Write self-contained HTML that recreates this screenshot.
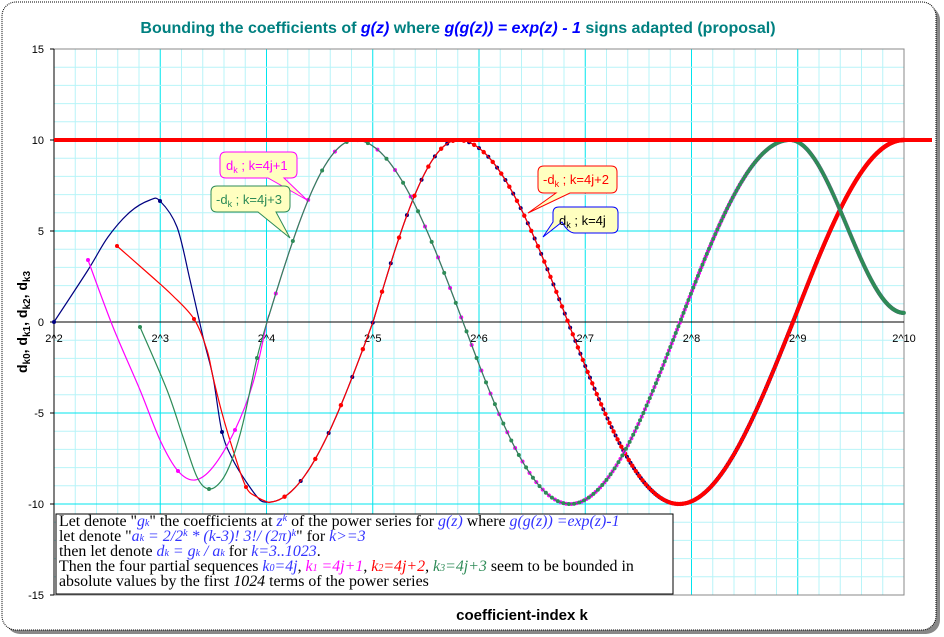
<!DOCTYPE html>
<html><head><meta charset="utf-8"><style>
html,body{margin:0;padding:0;background:#fff;width:944px;height:637px;overflow:hidden}
svg text{font-family:"Liberation Sans",sans-serif}
</style></head><body>
<svg id="s" width="944" height="637" xmlns="http://www.w3.org/2000/svg">
<rect x="6" y="6" width="934" height="628" rx="14" fill="#888"/>
<rect x="2" y="2" width="934" height="628" rx="14" fill="#fff" stroke="#000" stroke-dasharray="1,1"/>
<g id="grid"></g>
<rect x="54" y="49" width="850" height="546" fill="none" stroke="#888" stroke-width="1"/>
<line x1="54" y1="322" x2="904" y2="322" stroke="#000" stroke-width="1"/>
<line x1="54" y1="49" x2="54" y2="595" stroke="#000" stroke-width="1"/>
<g id="ticks" font-size="11"></g>
<g id="curves"></g>
<line x1="54" y1="140" x2="932" y2="140" stroke="#ff0000" stroke-width="4"/>
<g font-size="13">
<path d="M226,152 H291 Q297,152 297,158 V172 Q297,178 291,178 H284 L307,200 L268,178 H226 Q220,178 220,172 V158 Q220,152 226,152Z" fill="#ffffc0" stroke="#ff00ff"/>
<text x="226" y="170" fill="#ff00ff">d<tspan font-size="9" dy="3">k</tspan><tspan dy="-3"> ; k=4j+1</tspan></text>
<path d="M217,186 H284 Q290,186 290,192 V206 Q290,212 284,212 H276 L290,238 L258,212 H217 Q211,212 211,206 V192 Q211,186 217,186Z" fill="#ffffc0" stroke="#2e8b57"/>
<text x="216" y="204" fill="#2e8b57">-d<tspan font-size="9" dy="3">k</tspan><tspan dy="-3"> ; k=4j+3</tspan></text>
<path d="M544,166 H611 Q617,166 617,172 V187 Q617,193 611,193 H570 L528,213 L556,193 H544 Q538,193 538,187 V172 Q538,166 544,166Z" fill="#ffffc0" stroke="#ff0000"/>
<text x="543" y="184" fill="#ff0000">-d<tspan font-size="9" dy="3">k</tspan><tspan dy="-3"> ; k=4j+2</tspan></text>
<path d="M559,207 H612 Q618,207 618,213 V227 Q618,233 612,233 H575 Q568,233 562,222 L543,237 L553,222 V213 Q553,207 559,207Z" fill="#ffffc0" stroke="#0000ff"/>
<text x="559" y="225" fill="#000">d<tspan font-size="9" dy="3">k</tspan><tspan dy="-3"> ; k=4j</tspan></text>
</g>
<rect x="56" y="514" width="617" height="80" fill="#fff" stroke="#000"/>
<g font-size="15.9">
<text x="59" y="526" style="font-family:'Liberation Serif',serif">Let denote "<tspan fill="#3333ff" font-style="italic">g<tspan font-size="10">k</tspan></tspan>" the coefficients at <tspan fill="#3333ff" font-style="italic">z<tspan font-size="10" dy="-5">k</tspan></tspan><tspan dy="5"> of the power series for </tspan><tspan fill="#3333ff" font-style="italic">g(z)</tspan>  where <tspan fill="#3333ff" font-style="italic">g(g(z)) =exp(z)-1</tspan></text>
<text x="59" y="541" style="font-family:'Liberation Serif',serif">let denote  "<tspan fill="#3333ff" font-style="italic">a<tspan font-size="10">k</tspan> = 2/2<tspan font-size="10" dy="-5">k</tspan><tspan dy="5"> * (k-3)!  3!/ (2π)</tspan><tspan font-size="10" dy="-5">k</tspan></tspan><tspan dy="5">"   for </tspan><tspan fill="#3333ff" font-style="italic">k&gt;=3</tspan></text>
<text x="59" y="556" style="font-family:'Liberation Serif',serif">then let denote <tspan fill="#3333ff" font-style="italic">d<tspan font-size="10">k</tspan> = g<tspan font-size="10">k</tspan> / a<tspan font-size="10">k</tspan></tspan> for <tspan fill="#3333ff" font-style="italic">k=3..1023</tspan>.</text>
<text x="59" y="571" style="font-family:'Liberation Serif',serif">Then the four partial  sequences <tspan fill="#3333ff" font-style="italic">k<tspan font-size="10">0</tspan>=4j</tspan>, <tspan fill="#ff00ff" font-style="italic">k<tspan font-size="10">1</tspan> =4j+1</tspan>, <tspan fill="#ff0000" font-style="italic">k<tspan font-size="10">2</tspan>=4j+2</tspan>, <tspan fill="#2e8b57" font-style="italic">k<tspan font-size="10">3</tspan>=4j+3</tspan> seem to be bounded in</text>
<text x="59" y="586" style="font-family:'Liberation Serif',serif">absolute values by the first <tspan font-style="italic">1024</tspan> terms of the power series</text>
</g>
<text x="458" y="33" text-anchor="middle" font-size="16" font-weight="bold" fill="#008080">Bounding the coefficients of <tspan fill="#0000ff" font-style="italic">g(z)</tspan>  where <tspan fill="#0000ff" font-style="italic">g(g(z)) = exp(z) - 1</tspan>  signs adapted (proposal)</text>
<text x="522" y="620" text-anchor="middle" font-size="15" font-weight="bold">coefficient-index k</text>
<text transform="translate(27,322) rotate(-90)" text-anchor="middle" font-size="14" font-weight="bold">d<tspan font-size="10" dy="3">k0</tspan><tspan dy="-3">, d</tspan><tspan font-size="10" dy="3">k1</tspan><tspan dy="-3">, d</tspan><tspan font-size="10" dy="3">k2</tspan><tspan dy="-3">, d</tspan><tspan font-size="10" dy="3">k3</tspan></text>
</svg>
<script>
var NS="http://www.w3.org/2000/svg";
function el(p,t,a){var e=document.createElementNS(NS,t);for(var k in a)e.setAttribute(k,a[k]);p.appendChild(e);return e;}
var g=document.getElementById('grid'),tk=document.getElementById('ticks'),cv=document.getElementById('curves');
var X0=54,OCT=106.25,Y0=322,U=18.2;
function xk(k){return X0+OCT*Math.log2(k/4);}
for(var i=0;i<=40;i++){var x=X0+i*OCT/5;if(x>904)break;el(g,'line',{x1:x,y1:49,x2:x,y2:595,stroke:i%5==0?'#00e5ee':'#b8f4f8','stroke-width':1});}
for(var v=-15;v<=15;v++){var y=Y0-v*U;el(g,'line',{x1:54,y1:y,x2:904,y2:y,stroke:v%5==0?'#00e5ee':'#b8f4f8','stroke-width':1});}
for(var v=-15;v<=15;v+=5){var y=Y0-v*U;el(tk,'line',{x1:50,y1:y,x2:54,y2:y,stroke:'#000'});var t=el(tk,'text',{x:44,y:y+4,'text-anchor':'end'});t.textContent=v;}
for(var i=2;i<=10;i++){var x=X0+(i-2)*OCT;var t=el(tk,'text',{x:x,y:342,'text-anchor':'middle'});t.textContent='2^'+i;}
function mk(pts){return function(x){for(var i=0;i<pts.length-1;i++){var a=pts[i],b=pts[i+1];if(x>=a[0]&&x<=b[0]){var t=(x-a[0])/(b[0]-a[0]);var va=a[1],vb=b[1];if(va==0)return vb*Math.sin(t*Math.PI/2);if(vb==0)return va*Math.cos(t*Math.PI/2);return (va+vb)/2+(va-vb)/2*Math.cos(t*Math.PI);}}return null;};}
var A=mk([[268,-9.9],[373,0],[458,10],[568,0],[679,-10],[793,0],[904,10]]);
var B=mk([[267,0],[355,10],[463,0],[570,-10],[680,0],[790,10],[904,0.5]]);
function smooth(p){var d='M'+p[0][0]+','+p[0][1];for(var i=0;i<p.length-1;i++){var p0=p[i-1]||p[i],p1=p[i],p2=p[i+1],p3=p[i+2]||p2;d+=' C'+(p1[0]+(p2[0]-p0[0])/6)+','+(p1[1]+(p2[1]-p0[1])/6)+' '+(p2[0]-(p3[0]-p1[0])/6)+','+(p2[1]-(p3[1]-p1[1])/6)+' '+p2[0]+','+p2[1];}return d;}
function series(col,early,F,x0,r,mod){var pts=early.slice();for(var x=x0;x<=904;x+=2)pts.push([x,Y0-F(x)*U]);el(cv,'path',{d:smooth(pts),fill:'none',stroke:col,'stroke-width':1.2});
 for(var k=mod;k<=1023;k+=4){var x=xk(k);if(x<x0-1)continue;el(cv,'circle',{cx:x,cy:Y0-F(x)*U,r:r,fill:col});}}
var navyE=[[54,322],[88,270],[108,237],[130,212],[150,200],[160,201],[177,227],[190,280],[203,337],[213,377],[222,432],[233,460],[247,483],[260,500]];
var redE=[[117,246],[150,275],[172,295],[194,319],[207,350],[213,377],[222,413],[233,450],[246,487],[257,497]];
var magE=[[88,260],[113,327],[140,390],[160,440],[178,471],[195,480],[213,467],[235,430],[253,383]];
var grnE=[[140,327],[167,390],[183,437],[197,477],[209,489],[222,480],[233,457],[243,423],[257,358]];
series('#000080',navyE,A,268,2,4);
series('#ff0000',redE,A,268,2.2,6);
series('#ff00ff',magE,B,267,2,5);
series('#2e8b57',grnE,B,267,2,7);
[[54,322,'#000080'],[160,201,'#000080'],[222,432,'#000080'],[117,246,'#ff0000'],[194,319,'#ff0000'],[246,487,'#ff0000'],[88,260,'#ff00ff'],[178,471,'#ff00ff'],[235,430,'#ff00ff'],[140,327,'#2e8b57'],[209,489,'#2e8b57'],[257,358,'#2e8b57']].forEach(function(p){el(cv,'circle',{cx:p[0],cy:p[1],r:2,fill:p[2]});});
</script>
</body></html>
